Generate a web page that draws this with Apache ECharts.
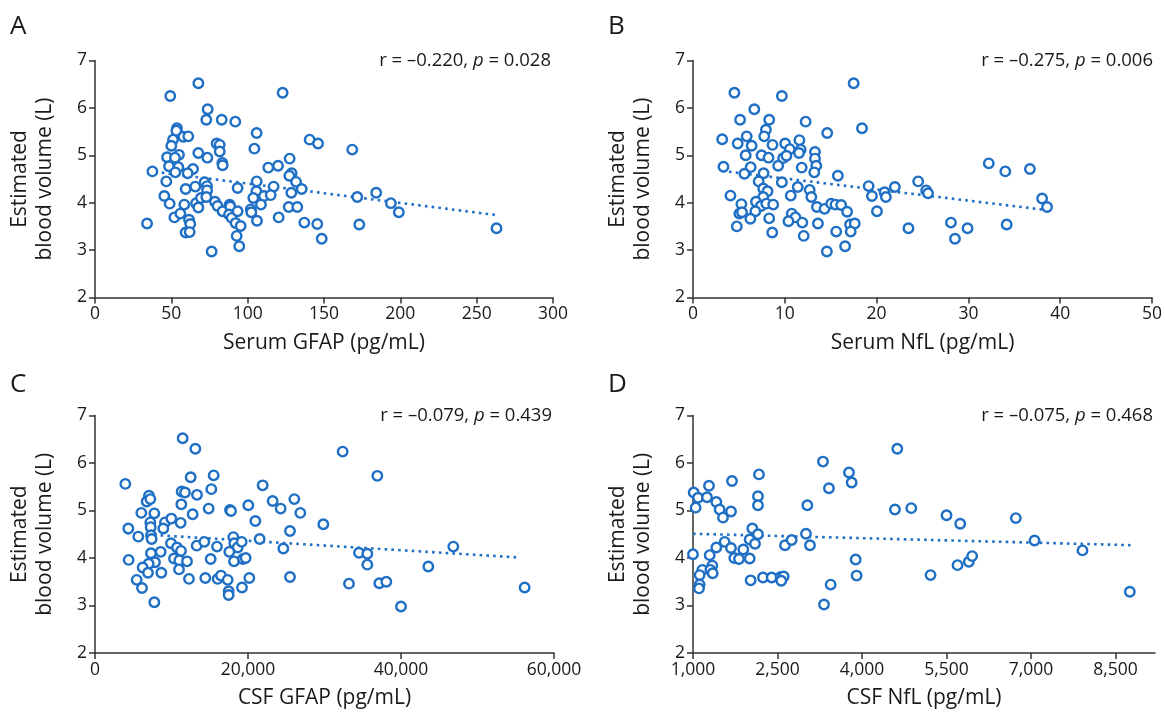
<!DOCTYPE html>
<html><head><meta charset="utf-8">
<script src="https://cdn.jsdelivr.net/npm/echarts@6/dist/echarts.min.js"></script>
<style>html,body{margin:0;padding:0;background:#fff}#c{width:1165px;height:713px}</style>
</head><body><div id="c"></div>
<script>
// ---- Data ----
const yTicks = [2,3,4,5,6,7];
const dTicks = [1000,2500,4000,5500,7000,8500];
const panelLetters = ['A','B','C','D'];
const xTitles = ['Serum GFAP (pg/mL)','Serum NfL (pg/mL)','CSF GFAP (pg/mL)','CSF NfL (pg/mL)'];
const yTitle = 'Estimated\nblood volume (L)';
const rValues = ['–0.220','–0.275','–0.079','–0.075'];
const pValues = ['0.028','0.006','0.439','0.468'];

const aPts = [[67.7,6.52],[49.3,6.25],[122.9,6.32],[73.8,5.97],[72.9,5.75],[83.0,5.75],[91.9,5.71],[53.7,5.57],[53.3,5.52],[105.9,5.47],[57.9,5.39],[61.1,5.40],[51.1,5.33],[79.7,5.25],[81.7,5.22],[50.0,5.20],[140.6,5.33],[146.1,5.25],[104.4,5.14],[81.7,5.08],[67.7,5.05],[73.6,4.95],[47.2,4.96],[55.0,5.01],[52.4,4.95],[83.4,4.84],[83.6,4.79],[48.5,4.77],[54.6,4.75],[64.2,4.71],[52.6,4.64],[60.7,4.62],[37.6,4.66],[113.5,4.74],[119.9,4.78],[127.5,4.93],[128.8,4.62],[127.3,4.57],[131.7,4.44],[135.4,4.29],[46.7,4.45],[59.4,4.29],[65.7,4.34],[71.8,4.43],[73.4,4.35],[73.4,4.26],[93.4,4.31],[105.9,4.45],[105.7,4.24],[117.0,4.34],[45.4,4.14],[48.9,3.98],[58.5,3.96],[66.2,3.99],[67.7,3.90],[69.4,4.10],[72.9,4.12],[78.6,4.02],[80.3,3.93],[83.6,3.82],[88.2,3.96],[88.6,3.92],[87.8,3.75],[89.5,3.68],[93.4,3.82],[92.1,3.57],[95.4,3.51],[92.8,3.30],[94.5,3.08],[76.4,2.97],[34.1,3.56],[52.0,3.69],[55.9,3.77],[61.6,3.64],[62.4,3.55],[59.4,3.37],[62.0,3.38],[102.0,3.86],[102.4,3.80],[103.7,4.10],[110.7,4.14],[115.1,4.16],[108.7,3.96],[106.1,3.62],[120.3,3.69],[126.9,3.91],[132.5,3.91],[128.6,4.21],[137.1,3.58],[145.6,3.55],[148.5,3.24],[168.5,5.12],[171.8,4.12],[184.2,4.21],[193.8,3.99],[199.0,3.80],[173.1,3.54],[263.0,3.46]];
const bPts = [[17.5,6.52],[4.51,6.32],[9.68,6.25],[6.68,5.97],[5.13,5.75],[8.30,5.75],[12.27,5.71],[18.41,5.57],[7.94,5.54],[7.76,5.40],[14.62,5.47],[3.18,5.34],[5.85,5.40],[4.87,5.25],[6.39,5.20],[8.66,5.22],[10.04,5.25],[11.59,5.32],[10.54,5.13],[11.73,5.12],[11.55,5.05],[13.29,5.07],[13.29,4.93],[5.74,5.00],[7.47,5.00],[8.23,4.95],[9.82,4.94],[10.18,4.99],[13.43,4.78],[9.28,4.78],[11.84,4.74],[13.21,4.64],[3.32,4.76],[6.28,4.75],[5.60,4.61],[7.69,4.62],[7.15,4.45],[9.68,4.43],[15.78,4.57],[7.65,4.30],[8.12,4.24],[11.41,4.33],[12.71,4.27],[19.13,4.35],[20.87,4.22],[21.01,4.12],[21.99,4.33],[19.49,4.14],[4.08,4.15],[7.65,4.12],[10.65,4.15],[12.89,4.12],[6.86,4.02],[5.27,3.97],[7.40,3.93],[7.98,3.98],[8.74,3.96],[13.50,3.91],[14.33,3.87],[15.05,3.98],[15.52,3.96],[16.14,3.95],[16.79,3.81],[20.04,3.82],[6.79,3.82],[5.05,3.77],[5.34,3.80],[6.25,3.66],[8.30,3.67],[10.76,3.77],[11.16,3.69],[10.40,3.61],[11.91,3.58],[13.61,3.56],[17.11,3.54],[17.62,3.56],[4.77,3.50],[8.63,3.37],[12.06,3.30],[15.60,3.39],[17.18,3.39],[16.57,3.08],[14.58,2.97],[23.47,3.46],[24.53,4.45],[25.4,4.26],[25.6,4.20],[28.10,3.58],[28.54,3.24],[29.91,3.46],[32.22,4.83],[34.02,4.66],[36.70,4.71],[34.17,3.54],[38.03,4.09],[38.57,3.91]];
const cPts = [[11459,6.52],[13115,6.30],[3965,5.56],[12505,5.70],[15511,5.74],[21916,5.53],[7058,5.31],[6753,5.19],[7233,5.24],[11328,5.40],[11764,5.38],[13332,5.33],[15206,5.45],[23223,5.20],[24269,5.04],[26055,5.24],[26839,4.95],[11285,5.13],[14857,5.04],[17646,5.01],[17777,4.99],[20042,5.11],[6056,4.95],[7756,4.94],[12766,4.92],[7233,4.75],[9150,4.75],[9978,4.83],[11197,4.74],[7276,4.65],[4357,4.62],[8932,4.62],[20957,4.78],[29845,4.71],[25488,4.57],[5664,4.45],[7320,4.48],[7407,4.40],[9934,4.31],[10718,4.22],[11241,4.15],[13289,4.26],[14291,4.34],[15947,4.24],[18082,4.44],[18212,4.31],[18648,4.22],[19171,4.34],[21524,4.40],[24617,4.20],[7320,4.10],[8583,4.13],[4400,3.96],[7843,3.91],[7015,3.88],[6230,3.80],[6928,3.69],[8670,3.69],[10326,3.99],[11023,3.95],[12025,3.93],[10980,3.76],[17559,4.13],[18169,3.93],[15119,3.98],[19345,3.98],[19694,4.00],[5446,3.54],[6143,3.37],[7756,3.07],[12287,3.56],[14422,3.58],[16034,3.56],[16470,3.63],[17341,3.54],[17472,3.30],[17472,3.22],[19214,3.38],[20173,3.58],[25488,3.60],[32374,6.24],[36905,5.73],[46839,4.24],[34509,4.11],[35598,4.09],[35598,3.86],[43571,3.82],[33202,3.46],[37166,3.47],[38081,3.50],[39998,2.98],[56163,3.38]];
const dPts = [[4626,6.30],[3307,6.03],[3768,5.80],[3816,5.59],[3413,5.47],[2171,5.76],[1692,5.62],[1284,5.52],[1012,5.38],[1089,5.27],[1248,5.28],[1047,5.06],[1414,5.18],[1473,5.02],[1532,4.85],[1674,4.98],[2153,5.30],[2153,5.11],[3029,5.11],[2053,4.62],[2153,4.50],[2006,4.39],[2100,4.30],[1562,4.34],[1674,4.21],[1893,4.18],[1414,4.22],[1296,4.06],[1733,4.00],[1816,3.98],[2006,3.99],[2633,4.27],[2751,4.38],[3005,4.51],[3076,4.27],[1343,3.84],[1166,3.75],[1308,3.75],[1118,3.64],[1349,3.68],[1118,3.44],[1106,3.36],[2023,3.53],[2242,3.59],[2396,3.59],[2556,3.60],[2609,3.61],[2567,3.52],[3887,3.97],[3904,3.63],[3443,3.44],[3325,3.02],[4584,5.02],[4874,5.05],[1000,4.08],[5500,4.90],[5743,4.72],[6730,4.84],[7062,4.37],[7913,4.16],[5216,3.64],[5695,3.85],[5896,3.92],[5955,4.04],[8753,3.29]];

const aTrend = [[34.9,4.67],[262.6,3.74]];
const bTrend = [[3.18,4.67],[38.3,3.85]];
const cTrend = [[4139,4.52],[55466,4.01]];
const dTrend = [[1000,4.51],[8765,4.27]];

// ---- Chart ----
const FONT = 'Open Sans';
const BLUE = '#1f6fc5';
const AX = '#333';
const TXT = '#1a1a1a';
const allPts = [aPts,bPts,cPts,dPts];
const allTrend = [aTrend,bTrend,cTrend,dTrend];
const grids = [
  {left:95, top:60.5, width:458, height:237},
  {left:693, top:60.5, width:462, height:237},
  {left:95, top:415.5, width:459, height:237.5},
  {left:693, top:415.5, width:462, height:237.5}
];
const xCfg = [
  {min:0,max:300,interval:50},
  {min:0,max:50,interval:10},
  {min:0,max:60000,interval:20000},
  {min:1000,max:9200,interval:1500}
];
const fmt = v => Number(v).toLocaleString('en-US');

const option = {
  animation:false,
  textStyle:{fontFamily:FONT},
  grid: grids.map(g=>Object.assign({containLabel:false},g)),
  xAxis: xCfg.map((c,i)=>{
    const ax = {
      type:'value', gridIndex:i, min:c.min, max:c.max, interval:c.interval,
      name:xTitles[i], nameLocation:'middle', nameGap:35,
      nameTextStyle:{fontSize:21, color:TXT, fontFamily:FONT},
      axisLine:{show:true, onZero:false, lineStyle:{color:AX, width:1.5}},
      axisTick:{show:true, length:6, lineStyle:{color:AX, width:1.5}},
      axisLabel:{fontSize:17.5, color:TXT, margin:8, fontFamily:FONT, formatter:fmt},
      splitLine:{show:false}
    };
    if(i===3){
      ax.axisTick.customValues = dTicks;
      ax.axisLabel.customValues = dTicks;
    }
    return ax;
  }),
  yAxis: grids.map((g,i)=>({
    type:'value', gridIndex:i, min:yTicks[0], max:yTicks[yTicks.length-1], interval:1,
    name:yTitle, nameLocation:'middle', nameGap:37, nameRotate:90,
    nameTextStyle:{fontSize:21, color:TXT, lineHeight:25, fontFamily:FONT},
    axisLine:{show:true, onZero:false, lineStyle:{color:AX, width:1.5}},
    axisTick:{show:true, length:6, lineStyle:{color:AX, width:1.5}},
    axisLabel:{fontSize:17.5, color:TXT, margin:8, fontFamily:FONT},
    splitLine:{show:false}
  })),
  series: [].concat(
    allTrend.map((t,i)=>({
      type:'line', xAxisIndex:i, yAxisIndex:i, data:t, symbol:'none', silent:true, z:1,
      lineStyle:{color:BLUE, width:2.6, type:[2.6,4.2], cap:'butt'}
    })),
    allPts.map((p,i)=>({
      type:'scatter', xAxisIndex:i, yAxisIndex:i, data:p, symbol:'circle', symbolSize:9.5, z:2,
      itemStyle:{color:'#fff', borderColor:BLUE, borderWidth:2.4, opacity:1}
    }))
  ),
  graphic: [].concat(
    panelLetters.map((L,i)=>({
      type:'text', left: i%2===0 ? 10 : 608, top: i<2 ? 14 : 372,
      style:{text:L, fontSize:26, fill:TXT, fontFamily:FONT}
    })),
    grids.map((g,i)=>({
      type:'text', x: g.left+g.width-2, y: g.top,
      style:{
        text:'{n|r = '+rValues[i]+', }{i|p}{n| = '+pValues[i]+'}',
        align:'right', verticalAlign:'middle',
        rich:{
          n:{fontSize:18.5, fill:TXT, fontFamily:FONT},
          i:{fontSize:18.5, fill:TXT, fontFamily:FONT, fontStyle:'italic'}
        }
      }
    }))
  )
};
const chart = echarts.init(document.getElementById('c'), null, {renderer:'canvas'});
chart.setOption(option);
</script>
</body></html>
